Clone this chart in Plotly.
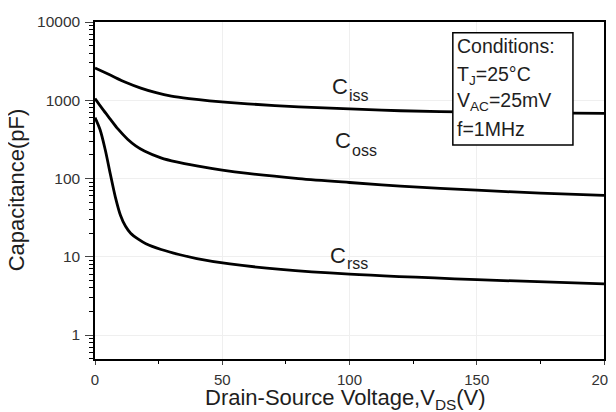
import plotly.graph_objects as go

vds_iss = [0, 6, 12, 18, 24, 30, 37, 45, 60, 80, 100, 120, 150, 175, 200]
ciss = [2590, 2100, 1700, 1430, 1250, 1130, 1050, 985, 900, 825, 775, 735, 705, 690, 680]

vds_oss = [0, 3, 6, 9, 12.8, 16, 19.4, 25.9, 32, 40, 50, 60, 80, 100, 120, 150, 175, 200]
coss = [1050, 770, 575, 430, 318, 262, 225, 184, 163, 145, 128, 116, 100, 89, 80, 71, 65, 61]

vds_rss = [0, 2, 4, 6, 8, 10, 12, 14, 17, 20, 26, 33, 40, 53, 73, 100, 150, 200]
crss = [600, 420, 235, 115, 58, 34, 24.5, 20, 16.8, 14.7, 12.4, 10.7, 9.5, 8.1, 6.9, 6.0, 5.1, 4.5]

y_ticks = [1, 10, 100, 1000, 10000]
y_labels = ["1", "10", "100", "1000", "10000"]
y_minor = [m * 10 ** e for e in range(-1, 4) for m in range(2, 10) if 0.5 <= m * 10 ** e <= 10000]
x_ticks = [0, 50, 100, 150, 200]

FONT = "Liberation Sans, Arial, sans-serif"
TXT = "#1e1e1e"

fig = go.Figure()
for xs, ys in [(vds_iss, ciss), (vds_oss, coss), (vds_rss, crss)]:
    fig.add_trace(go.Scatter(x=xs, y=ys, mode="lines",
                             line=dict(color="black", width=2.8, shape="spline", smoothing=0.9),
                             showlegend=False, hoverinfo="skip"))

fig.update_layout(
    width=608, height=404,
    margin=dict(l=87, r=12, t=14, b=53),
    paper_bgcolor="white", plot_bgcolor="white",
    font=dict(family=FONT, color=TXT, size=12),
    xaxis=dict(range=[0, 200], tickvals=x_ticks, ticks="outside", ticklen=4, tickwidth=1.2,
               showline=True, linecolor="black", linewidth=1.5, mirror=True,
               showgrid=True, gridcolor="#efefef", gridwidth=1, zeroline=False,
               minor=dict(tickvals=[25, 75, 125, 175], ticks="outside", ticklen=3, tickcolor="black", showgrid=False),
               tickfont=dict(size=15, color="#333"), ticklabelstandoff=2,
               ticklabeloverflow="allow", automargin=False),
    yaxis=dict(type="log", range=[-0.306, 4], tickvals=y_ticks, ticktext=y_labels,
               ticks="outside", ticklen=8, tickwidth=1.2,
               showline=True, linecolor="black", linewidth=1.5, mirror=True,
               showgrid=True, gridcolor="#efefef", gridwidth=1, zeroline=False,
               minor=dict(tickvals=y_minor, ticks="outside", ticklen=4, tickcolor="black", showgrid=False),
               tickfont=dict(size=15.5, color="#333"), ticklabelstandoff=2,
               ticklabeloverflow="allow", automargin=False),
)

# axis titles
fig.add_annotation(text="Capacitance(pF)", xref="paper", yref="paper", x=-0.155, y=0.501,
                   xanchor="center", yanchor="middle", textangle=-90, showarrow=False,
                   font=dict(family=FONT, size=22, color=TXT))
fig.add_annotation(text="Drain-Source Voltage,V<sub>DS</sub>(V)", xref="paper", yref="paper",
                   x=0.493, y=-0.118, xanchor="center", yanchor="middle", showarrow=False,
                   font=dict(family=FONT, size=22, color=TXT))

# Conditions box
fig.add_shape(type="rect", xref="paper", yref="paper", x0=0.703, x1=0.939, y0=0.635, y1=0.968,
              line=dict(color="black", width=1.5), fillcolor="white", layer="above")

cond = ["Conditions:", "T<sub>J</sub>=25°C", "V<sub>AC</sub>=25mV", "f=1MHz"]
cond_y = [0.930, 0.840, 0.763, 0.682]
for t, yy in zip(cond, cond_y):
    fig.add_annotation(text=t, xref="paper", yref="paper", x=0.707, y=yy,
                       xanchor="left", yanchor="middle", showarrow=False,
                       font=dict(family=FONT, size=19.5, color=TXT))

# curve labels: "C" plus subscript
subs = ["iss", "oss", "rss"]
c_x = [0.4617, 0.4676, 0.4578]
c_y = [0.810, 0.647, 0.3086]
s_x = [0.495, 0.501, 0.491]
s_y = [0.783, 0.620, 0.282]
for s, cx, cy, sx, sy in zip(subs, c_x, c_y, s_x, s_y):
    fig.add_annotation(text="C", xref="paper", yref="paper", x=cx, y=cy,
                       xanchor="left", yanchor="middle", showarrow=False,
                       font=dict(family=FONT, size=22, color=TXT))
    fig.add_annotation(text=s, xref="paper", yref="paper", x=sx, y=sy,
                       xanchor="left", yanchor="middle", showarrow=False,
                       font=dict(family=FONT, size=16, color=TXT))

fig.write_html("out.html")
